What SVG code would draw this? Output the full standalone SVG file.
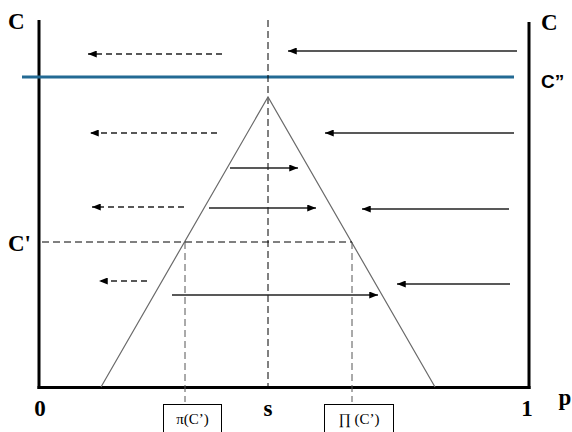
<svg xmlns="http://www.w3.org/2000/svg" width="572" height="432" viewBox="0 0 572 432">
  <style>
    .axis { stroke: #000; stroke-width: 3; fill: none; }
    .thin { stroke: #6a6a6a; stroke-width: 1.2; fill: none; }
    .guide { stroke: #000; stroke-width: 1; stroke-dasharray: 7 4; fill: none; }
    .guide-gray { stroke: #555; stroke-width: 1; stroke-dasharray: 7 4; fill: none; }
    .flow { stroke: #222; stroke-width: 1.3; fill: none; marker-end: url(#head); }
    .flow-dash { stroke: #222; stroke-width: 1.3; stroke-dasharray: 6 4; fill: none; marker-end: url(#head); }
    .lbl { font-family: "Liberation Serif", serif; font-weight: bold; font-size: 23px; fill: #000; }
    .lbl-sans { font-family: "Liberation Sans", sans-serif; font-weight: bold; font-size: 19px; fill: #000; }
    .box { fill: #fff; stroke: #000; stroke-width: 1; }
    .boxtxt { font-family: "Liberation Serif", serif; font-size: 15px; fill: #000; }
  </style>
  <defs>
    <marker id="head" viewBox="0 0 10 8" refX="10" refY="4" markerWidth="10" markerHeight="7" markerUnits="userSpaceOnUse" orient="auto">
      <path d="M0,0 L10,4 L0,8 Z" fill="#000"/>
    </marker>
  </defs>
  <rect width="572" height="432" fill="#fff"/>

  <!-- frame: axes -->
  <g id="axes">
    <line class="axis" x1="39" y1="20" x2="39" y2="389"/>
    <line class="axis" x1="529" y1="22" x2="529" y2="389"/>
    <line class="axis" x1="37.5" y1="387.5" x2="530.5" y2="387.5"/>
  </g>

  <!-- level C'' -->
  <g id="level-c2">
    <line x1="22" y1="77" x2="514" y2="77" stroke="#236a94" stroke-width="3"/>
  </g>

  <!-- symmetry line at s -->
  <g id="s-line">
    <line class="guide" x1="268" y1="20" x2="268" y2="389"/>
  </g>

  <!-- tent -->
  <g id="tent">
    <polyline class="thin" points="101,387 268,97 435,387"/>
  </g>

  <!-- C' guides -->
  <g id="c1-guides">
    <line class="guide" x1="42" y1="242" x2="352" y2="242"/>
    <line class="guide-gray" x1="185" y1="242" x2="185" y2="402"/>
    <line class="guide-gray" x1="352" y1="242" x2="352" y2="402"/>
  </g>

  <!-- flow arrows -->
  <g id="connectors">
    <line class="flow-dash" x1="222" y1="54" x2="88" y2="54"/>
    <line class="flow" x1="517" y1="51" x2="288" y2="51"/>

    <line class="flow-dash" x1="217" y1="133" x2="90" y2="133"/>
    <line class="flow" x1="514" y1="133" x2="325" y2="133"/>

    <line class="flow" x1="230" y1="168" x2="298" y2="168"/>

    <line class="flow-dash" x1="184" y1="207" x2="92" y2="207"/>
    <line class="flow" x1="209" y1="208" x2="316" y2="208"/>
    <line class="flow" x1="509" y1="209" x2="362" y2="209"/>

    <line class="flow-dash" x1="147" y1="281" x2="99" y2="281"/>
    <line class="flow" x1="172" y1="295" x2="378" y2="295"/>
    <line class="flow" x1="510" y1="284" x2="397" y2="284"/>
  </g>

  <!-- axis labels -->
  <g id="labels">
    <text class="lbl" x="8" y="29">C</text>
    <text class="lbl" x="541" y="30">C</text>
    <text class="lbl-sans" x="541" y="88">C”</text>
    <text class="lbl" x="8" y="251">C'</text>
    <text class="lbl" x="40" y="416" text-anchor="middle">0</text>
    <text class="lbl" x="268" y="416" text-anchor="middle">s</text>
    <text class="lbl" x="527" y="416" text-anchor="middle">1</text>
    <text class="lbl" x="565" y="405" text-anchor="middle">p</text>
  </g>

  <!-- marker boxes -->
  <g id="box-pi">
    <rect class="box" x="163.5" y="404.5" width="58" height="30"/>
    <text class="boxtxt" x="192.5" y="424" text-anchor="middle">π(C’)</text>
  </g>
  <g id="box-Pi">
    <rect class="box" x="324.5" y="404.5" width="69" height="30"/>
    <text class="boxtxt" x="359" y="424" text-anchor="middle">∏ (C’)</text>
  </g>
</svg>
